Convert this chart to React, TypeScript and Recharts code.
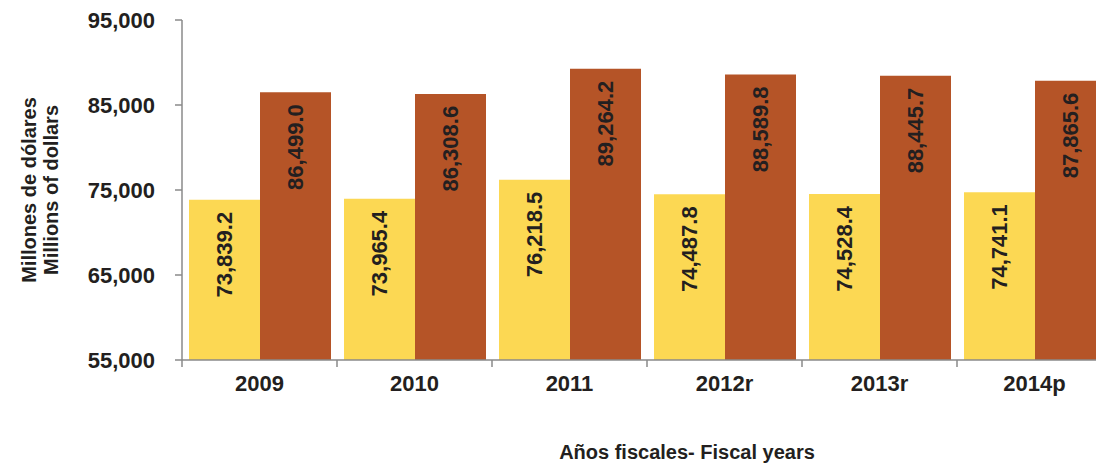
import { Bar, BarChart, LabelList, XAxis, YAxis } from 'recharts'

const ANOS = ['2009', '2010', '2011', '2012r', '2013r', '2014p']
const SERIE_AMARILLA = [73839.2, 73965.4, 76218.5, 74487.8, 74528.4, 74741.1]
const SERIE_MARRON = [86499.0, 86308.6, 89264.2, 88589.8, 88445.7, 87865.6]
const TICKS_Y = [55000, 65000, 75000, 85000, 95000]

const FUENTE = 'Arial, "Liberation Sans", sans-serif'
const COLOR_EJE = '#8a8a8a'
const COLOR_TEXTO = '#231f20'
const MARGEN_TICK_X = 23

const dados = ANOS.map((ano, i) => ({
  ano,
  amarilla: SERIE_AMARILLA[i],
  marron: SERIE_MARRON[i],
}))

const formatoMiles = (v: number) => v.toLocaleString('en-US')
const formatoDecimal = (v: number) =>
  v.toLocaleString('en-US', { minimumFractionDigits: 1, maximumFractionDigits: 1 })

function EtiquetaVertical(props: any) {
  const { x, y, width, value } = props
  const cx = x + width / 2
  const cy = y + 12
  return (
    <text
      x={cx}
      y={cy}
      transform={`rotate(-90 ${cx} ${cy})`}
      textAnchor="end"
      dominantBaseline="central"
      fontFamily={FUENTE}
      fontSize={22}
      fontWeight="bold"
      fill={COLOR_TEXTO}
    >
      {formatoDecimal(value)}
    </text>
  )
}

// tick de categoría: marca en los límites de cada año y el texto centrado
function TickAno(props: any) {
  const { x, y, payload, index, visibleTicksCount } = props
  const ejeY = y - MARGEN_TICK_X
  const izq = x - payload.offset
  const der = x + payload.offset
  return (
    <g>
      <line x1={izq} y1={ejeY} x2={izq} y2={ejeY + 7} stroke={COLOR_EJE} strokeWidth={1.5} />
      {index === visibleTicksCount - 1 && (
        <line x1={der} y1={ejeY} x2={der} y2={ejeY + 7} stroke={COLOR_EJE} strokeWidth={1.5} />
      )}
      <text
        x={x}
        y={y}
        textAnchor="middle"
        dominantBaseline="central"
        fontFamily={FUENTE}
        fontSize={22}
        fontWeight="bold"
        fill={COLOR_TEXTO}
      >
        {payload.value}
      </text>
    </g>
  )
}

function EtiquetaEjeY() {
  return (
    <g fontFamily={FUENTE} fontSize={20} fontWeight="bold" fill={COLOR_TEXTO}>
      <text x={29} y={190} transform="rotate(-90 29 190)" textAnchor="middle" dominantBaseline="central">
        Millones de dólares
      </text>
      <text x={51} y={190} transform="rotate(-90 51 190)" textAnchor="middle" dominantBaseline="central">
        Millions of dollars
      </text>
    </g>
  )
}

function EtiquetaEjeX() {
  return (
    <text
      x={687}
      y={452}
      textAnchor="middle"
      dominantBaseline="central"
      fontFamily={FUENTE}
      fontSize={20}
      fontWeight="bold"
      fill={COLOR_TEXTO}
    >
      Años fiscales- Fiscal years
    </text>
  )
}

export default function App() {
  return (
    <div
      style={{
        position: 'absolute',
        left: 0,
        top: 0,
        width: 1096,
        height: 464,
        overflow: 'hidden',
        background: '#fff',
      }}
    >
      <BarChart
        width={1120}
        height={464}
        data={dados}
        margin={{ top: 20, right: 8, bottom: 54, left: 90 }}
        barCategoryGap={7}
        barGap={0}
      >
        <XAxis
          dataKey="ano"
          height={50}
          axisLine={{ stroke: COLOR_EJE, strokeWidth: 1.5 }}
          tickLine={false}
          tickSize={0}
          tickMargin={MARGEN_TICK_X}
          tick={<TickAno />}
          label={{ content: () => <EtiquetaEjeX /> }}
        />
        <YAxis
          width={92}
          domain={[55000, 95000]}
          ticks={TICKS_Y}
          allowDataOverflow
          tickFormatter={formatoMiles}
          tickSize={7}
          tickMargin={20}
          axisLine={{ stroke: COLOR_EJE, strokeWidth: 1.5 }}
          tickLine={{ stroke: COLOR_EJE, strokeWidth: 1.5 }}
          tick={{ fontFamily: FUENTE, fontSize: 22, fontWeight: 'bold', fill: COLOR_TEXTO }}
          label={{ content: () => <EtiquetaEjeY /> }}
        />
        <Bar dataKey="amarilla" fill="#fcd853" isAnimationActive={false}>
          <LabelList dataKey="amarilla" content={EtiquetaVertical} />
        </Bar>
        <Bar dataKey="marron" fill="#b55427" isAnimationActive={false}>
          <LabelList dataKey="marron" content={EtiquetaVertical} />
        </Bar>
      </BarChart>
    </div>
  )
}
